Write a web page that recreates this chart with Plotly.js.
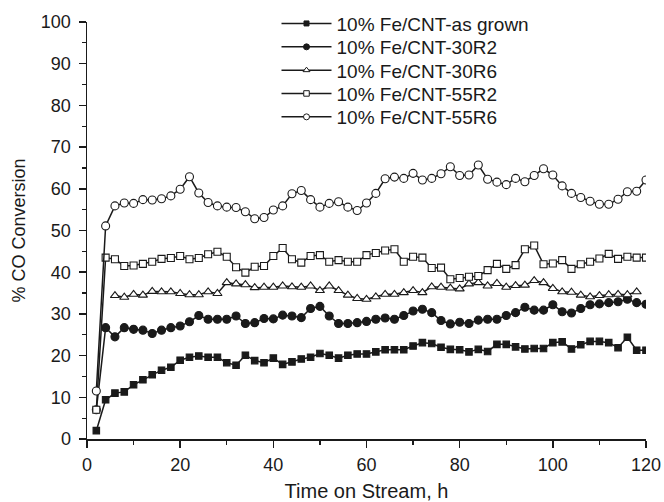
<!DOCTYPE html>
<html><head><meta charset="utf-8">
<script src="https://cdn.plot.ly/plotly-3.0.1.min.js"></script>
<style>body{margin:0;background:#fff}#chart{width:664px;height:502px}</style>
</head><body><div id="chart"></div>
<script>
// Time on stream (h)
const timeFull = [2,4,6,8,10,12,14,16,18,20,22,24,26,28,30,32,34,36,38,40,42,44,46,48,50,52,54,56,58,60,62,64,66,68,70,72,74,76,78,80,82,84,86,88,90,92,94,96,98,100,102,104,106,108,110,112,114,116,118,120];
const time30R6 = [6,8,10,12,14,16,18,20,22,24,26,28,30,32,34,36,38,40,42,44,46,48,50,52,54,56,58,60,62,64,66,68,70,72,74,76,78,80,82,84,86,88,90,92,94,96,98,100,102,104,106,108,110,112,114,116,118];

const asGrown = [2.0,9.4,11.0,11.3,13.0,14.2,15.4,16.5,17.2,18.9,19.6,19.9,19.6,19.6,18.3,17.7,20.1,18.8,18.3,19.4,17.9,18.5,19.2,19.6,20.5,20.1,19.4,20.1,20.4,20.4,20.9,21.4,21.4,21.4,22.3,23.1,22.9,22.0,21.5,21.4,20.9,21.5,21.0,22.7,22.7,22.1,21.6,21.7,21.7,23.1,23.3,21.6,22.6,23.4,23.4,23.1,21.9,24.4,21.3,21.3];
const r30R2 = [7.0,26.7,24.5,26.7,26.3,26.1,25.3,26.1,26.7,27.1,28.1,29.6,28.7,28.7,28.7,29.5,27.7,27.9,28.9,28.8,29.7,29.5,29.1,31.3,31.8,29.5,27.7,27.7,27.9,28.2,28.7,29.0,28.7,29.6,30.7,31.1,30.3,28.4,27.6,28.0,27.7,28.5,28.7,28.7,29.6,30.3,31.6,30.9,30.9,32.2,30.5,30.2,31.3,32.2,32.4,32.7,32.9,33.5,32.7,32.3];
const r30R6 = [34.4,34.0,34.7,34.5,35.4,35.3,35.3,34.9,34.6,34.6,35.3,34.9,37.5,37.2,37.0,36.3,36.4,36.4,36.7,36.5,36.4,36.7,35.6,36.7,35.6,34.5,33.7,33.5,34.1,34.7,34.7,35.1,35.6,35.1,36.5,36.4,36.2,36.0,37.2,37.5,36.7,37.3,36.4,36.8,36.9,38.0,37.5,36.1,35.3,35.2,34.5,34.1,34.4,34.6,34.7,34.6,35.3];
const r55R2 = [7.0,43.5,43.1,41.5,41.6,42.0,42.5,43.2,43.4,43.9,43.1,43.4,44.3,44.9,43.7,41.2,39.9,41.3,41.5,43.9,45.8,43.1,42.3,43.9,44.1,42.5,42.9,42.5,42.5,44.1,44.6,45.2,45.5,42.5,43.7,43.5,41.0,41.1,38.3,38.6,38.9,39.1,40.5,42.0,40.8,41.7,45.5,46.4,41.9,42.1,42.9,40.8,41.9,42.5,43.3,44.4,43.2,43.7,43.5,43.5];
const r55R6 = [11.5,51.1,55.9,56.6,56.5,57.4,57.3,57.6,58.3,59.9,62.9,59.0,56.7,55.9,55.6,55.5,54.5,52.8,53.1,54.9,55.9,58.8,59.6,57.4,55.6,56.5,56.9,55.6,54.8,56.6,58.9,62.4,62.8,62.5,63.7,62.1,62.5,63.6,65.3,63.2,63.3,65.7,62.3,61.6,61.0,62.5,61.7,63.2,64.8,63.3,60.7,58.9,57.9,57.0,56.3,56.3,57.5,59.3,59.4,62.1];

const names = ['10% Fe/CNT-as grown','10% Fe/CNT-30R2','10% Fe/CNT-30R6','10% Fe/CNT-55R2','10% Fe/CNT-55R6'];
const xTicks = [0,20,40,60,80,100,120];
const yTicks = [0,10,20,30,40,50,60,70,80,90,100];

const ink = '#1a1a1a';
const legendIds = ['legend', 'legend2', 'legend3', 'legend4', 'legend5'];
const series = [
  {x: timeFull, y: asGrown, sym: 'square', size: 6.5, lsize: 5, filled: true},
  {x: timeFull, y: r30R2, sym: 'circle', size: 8, lsize: 6, filled: true},
  {x: time30R6, y: r30R6, sym: 'triangle-up', size: 8, lsize: 6, filled: false},
  {x: timeFull, y: r55R2, sym: 'square', size: 7, lsize: 5.5, filled: false},
  {x: timeFull, y: r55R6, sym: 'circle', size: 8, lsize: 6, filled: false}
];
const data = [];
series.forEach(function (s, i) {
  // plotted series
  data.push({x: s.x, y: s.y, name: names[i], showlegend: false, type: 'scatter', mode: 'lines+markers',
    line: {color: ink, width: 1.5},
    marker: {symbol: s.sym, size: s.size, color: s.filled ? ink : '#ffffff', line: {color: ink, width: 1.1}}});
  // legend key only (smaller marker, as in the reference key)
  data.push({x: [null], y: [null], name: names[i], legend: legendIds[i], showlegend: true,
    type: 'scatter', mode: 'lines+markers', line: {color: ink, width: 1.5},
    marker: {symbol: s.sym, size: s.lsize, color: s.filled ? ink : '#ffffff', line: {color: ink, width: 1}}});
});
const fam = 'Liberation Sans, Arial, sans-serif';
const plotTop = 22, plotBottom = 439, plotH = plotBottom - plotTop;
const layout = {
  width: 664, height: 502,
  margin: {l: 87, r: 18, t: plotTop, b: 502 - plotBottom, autoexpand: false},
  paper_bgcolor: '#fff', plot_bgcolor: '#fff',
  font: {family: fam, size: 18, color: ink},
  showlegend: true,
  xaxis: {range: [0, 120], tickvals: xTicks, ticktext: xTicks.map(String),
          showline: true, linecolor: ink, linewidth: 1.5, ticks: 'outside', ticklen: 7, tickwidth: 1.5, tickcolor: ink,
          ticklabelstandoff: 2,
          minor: {dtick: 10, ticks: 'outside', ticklen: 4, tickwidth: 1.2, tickcolor: ink},
          showgrid: false, zeroline: false, mirror: false,
          title: {text: 'Time on Stream, h', font: {family: fam, size: 20, color: ink}, standoff: 12}},
  yaxis: {range: [0, 100], tickvals: yTicks, ticktext: yTicks.map(String),
          showline: true, linecolor: ink, linewidth: 1.5, ticks: 'outside', ticklen: 7, tickwidth: 1.5, tickcolor: ink,
          ticklabelstandoff: 4,
          minor: {dtick: 5, ticks: 'outside', ticklen: 4, tickwidth: 1.2, tickcolor: ink},
          showgrid: false, zeroline: false, mirror: false,
          title: {text: '% CO Conversion', font: {family: fam, size: 18, color: ink}, standoff: 10}}
};
// one legend box per entry so that the row pitch matches the reference
const rowPx = [23.6, 47, 70.3, 93.6, 117];
legendIds.forEach(function (id, i) {
  layout[id] = {x: 0.339, y: (plotBottom - rowPx[i]) / plotH, xanchor: 'left', yanchor: 'middle',
    bgcolor: 'rgba(0,0,0,0)', borderwidth: 0, itemwidth: 50,
    font: {family: fam, size: 19, color: ink}};
});
Plotly.newPlot('chart', data, layout, {displayModeBar: false, staticPlot: true});
</script></body></html>
